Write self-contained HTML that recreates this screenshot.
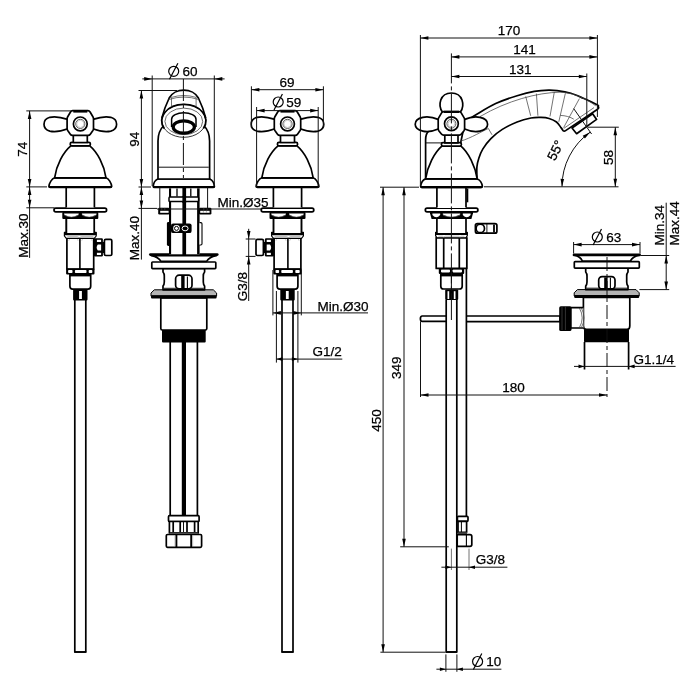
<!DOCTYPE html>
<html><head><meta charset="utf-8"><title>drawing</title>
<style>
html,body{margin:0;padding:0;background:#fff}
svg{display:block}
.m{stroke:#000;stroke-width:1.7;fill:none;stroke-linejoin:round}
.w{fill:#fff}
.t{stroke:#111;stroke-width:1;fill:none}
.g{stroke:#444;stroke-width:.75;fill:none}
.ar{fill:#000;stroke:none}
.ph{stroke:#000;stroke-width:1.2;fill:none}
text{font-family:"Liberation Sans",sans-serif;font-size:13.5px;fill:#000;stroke:#000;stroke-width:.25px}
svg{will-change:transform}
</style></head><body>
<svg width="700" height="700" viewBox="0 0 700 700">
<rect width="700" height="700" fill="#fff"/>

<defs><g id="vf">
 <!-- pipe -->
 <path class="m w" d="M-5.5,300 V652 H5.5 V300"/>
 <line class="m" x1="-5.9" y1="652" x2="5.9" y2="652" stroke-width="2"/>
 <!-- connector -->
 <rect x="-7.2" y="289.5" width="14.4" height="11" rx="1" fill="#000"/>
 <rect x="-1.2" y="291" width="2.8" height="8" fill="#fff"/>
 <!-- lower body -->
 <path class="m w" d="M-10.4,274.6 V286.3 Q-10.4,289.1 -7.6,289.1 H7.6 Q10.4,289.1 10.4,286.3 V274.6 Z" stroke-width="1.9"/>
 <line x1="-10.4" y1="275.4" x2="10.4" y2="275.4" stroke="#000" stroke-width="2"/>
 <!-- hex body -->
 <rect class="m w" x="-13.4" y="238" width="26.8" height="31"/>
 <line x1="-0.4" y1="238" x2="-0.4" y2="269" stroke="#000" stroke-width="1.6"/>
 <path d="M-11.6,240.5 Q-11.6,239.6 -10.6,239.6 M-2.2,240.5 Q-2.2,239.6 -3.2,239.6 M1.4,240.5 Q1.4,239.6 2.4,239.6 M11.6,240.5 Q11.6,239.6 10.6,239.6" stroke="#888" stroke-width=".5" fill="none"/>
 <!-- lower nut -->
 <rect x="-14.2" y="268.4" width="28.4" height="6.2" rx="1" fill="#000"/>
 <rect x="-12.2" y="270" width="4.4" height="3" rx=".8" fill="#fff"/>
 <rect x="-5.4" y="270" width="11.6" height="3" rx=".8" fill="#fff"/>
 <rect x="8.4" y="270" width="3.6" height="3" rx=".8" fill="#fff"/>
 <!-- ring -->
 <path d="M-15.9,232.4 H15.9 V236 L14,238.4 H-14 L-15.9,236 Z" fill="#fff" stroke="#000" stroke-width="1.2" stroke-linejoin="round"/>
 <rect x="-16.3" y="232" width="32.6" height="3.2" rx=".8" fill="#000"/>
 <path d="M-13,236.6 H-3 L-1,237.6 L1,236.6 H13" stroke="#888" stroke-width=".6" fill="none"/>
 <!-- upper stem -->
 <path class="m w" d="M-13.9,218 V233 M13.9,218 V233"/>
 <rect x="-13.9" y="218" width="27.8" height="15" fill="#fff"/>
 <path class="m" d="M-13.9,218 V233 M13.9,218 V233"/>
 <!-- nut under flange -->
 <rect x="-18" y="212" width="36" height="6.9" rx="1" fill="#000"/>
 <path d="M-16.2,213.6 H-1.6 V214.6 Q-8.9,219.2 -16.2,214.6 Z" fill="#fff"/>
 <path d="M1.6,213.6 H16.2 V214.6 Q8.9,219.2 1.6,214.6 Z" fill="#fff"/>
 <path d="M-16,215.2 Q-8.9,218.6 -1.8,215.2 M1.8,215.2 Q8.9,218.6 16,215.2" stroke="#999" stroke-width=".5" fill="none"/>
 <!-- flange -->
 <rect x="-26.3" y="208.2" width="52.6" height="3.6" rx="1.8" fill="#fff" stroke="#000" stroke-width="1.7"/>
 <!-- stem under handle -->
 <rect x="-14.1" y="187" width="28.2" height="20.5" fill="#fff"/>
 <path class="m" d="M-14.1,187 V207.4 M14.1,187 V207.4"/>
 <!-- base flare -->
 <path class="m w" d="M-25.6,177.8 C-28.5,178.6 -31,183 -31.4,186.4 Q-31.3,187.3 -30,187.3 H30 Q31.3,187.3 31.4,186.4 C31,183 28.5,178.6 25.6,177.8 Z"/>
 <line x1="-30.6" y1="187" x2="30.6" y2="187" stroke="#000" stroke-width="2.2" stroke-linecap="round"/>
 <!-- bell -->
 <path class="m w" d="M-9.2,145.6 C-17,152 -24,165 -25.7,177.8 H25.7 C24,165 17,152 9.2,145.6 Z"/>
 <!-- collar -->
 <rect class="m w" x="-10.1" y="142.3" width="20.2" height="3.5" rx="1.6"/>
 <!-- neck -->
 <rect class="m w" x="-7" y="134.5" width="14" height="8"/>
 <!-- lobes -->
 <path id="lobe" class="m w" d="M-12.5,119.4 C-19,117.2 -26,116.2 -30.5,117.3 C-34.6,118.4 -36.3,120.8 -36.3,124.2 C-36.3,127.6 -34.6,130 -30.5,131.1 C-26,132.2 -19,131.2 -12.5,128.8 Z"/>
 <use href="#lobe" transform="scale(-1,1)"/>
 <!-- hub -->
 <path class="m w" d="M-7.6,110.7 H7.6 Q9,110.8 9.8,112 L12.6,116.8 Q13.2,117.8 13.2,119 V128.4 Q13.2,129.6 12.6,130.5 L10,134.2 Q9.2,135.4 7.8,135.4 H-7.8 Q-9.2,135.4 -10,134.2 L-12.6,130.5 Q-13.2,129.6 -13.2,128.4 V119 Q-13.2,117.8 -12.6,116.8 L-9.8,112 Q-9,110.8 -7.6,110.7 Z"/>
 <line x1="-7" y1="111.4" x2="7" y2="111.4" stroke="#000" stroke-width="2.4"/>
 <circle class="m w" cx="0" cy="123.9" r="6.9" stroke-width="1.7"/>
 <circle cx="0" cy="123.9" r="4.6" fill="none" stroke="#333" stroke-width=".8"/>
 <circle cx="0" cy="123.9" r="3.6" fill="none" stroke="#aaa" stroke-width=".6"/>
 <!-- side valve -->
 <rect x="13.6" y="238.3" width="9" height="18.2" rx="1.2" fill="#000"/>
 <rect x="16.6" y="239.8" width="4.2" height="2.2" fill="#fff"/>
 <path d="M20.8,244.5 H17.5 Q15.2,247.4 17.5,250.4 H20.8 Z" fill="#fff"/>
 <rect x="16.6" y="252.8" width="4.2" height="2.2" fill="#fff"/>
 <rect class="m w" x="24.1" y="239.3" width="7.4" height="16.2" rx="1.4" stroke-width="2.2"/>
 <rect x="22" y="242" width="2.4" height="11" fill="#000"/>
</g></defs>

<use href="#vf" transform="translate(80.3,0)"/>
<use href="#vf" transform="translate(287.5,0) scale(-1,1)"/>
<line class="t" x1="26.3" y1="110.9" x2="72.0" y2="110.9"/>
<line class="t" x1="29.6" y1="110.9" x2="29.6" y2="257.9"/>
<line class="t" x1="26.3" y1="186.9" x2="47.0" y2="186.9"/>
<line class="t" x1="26.3" y1="207.8" x2="54.5" y2="207.8"/>
<polygon class="ar" points="29.6,110.9 31.4,118.9 27.8,118.9"/>
<polygon class="ar" points="29.6,186.9 27.8,178.9 31.4,178.9"/>
<polygon class="ar" points="29.6,186.9 31.4,194.9 27.8,194.9"/>
<polygon class="ar" points="29.6,207.8 27.8,199.8 31.4,199.8"/>
<text x="26.9" y="149.2" text-anchor="middle" transform="rotate(-90 26.9 149.2)">74</text>
<text x="27.6" y="235.7" text-anchor="middle" transform="rotate(-90 27.6 235.7)">Max.30</text>
<g transform="translate(183.8,0)">

 <!-- hose below drain -->
 <path class="m" d="M-13.6,342 V516 M13.6,342 V516"/>
 <rect x="-2" y="342" width="4.2" height="174" fill="#000"/>
 <!-- hose end fitting -->
 <rect class="m w" x="-15.3" y="515.7" width="30.6" height="5.8" rx="1" stroke-width="1.6"/>
 <rect class="m w" x="-14.4" y="521.5" width="28.8" height="11.4"/>
 <path class="m" d="M-10.6,522 V532.5 M-3.6,522 V532.5 M3.2,522 V532.5 M10.8,522 V532.5" stroke-width="1.1"/>
 <path class="t" d="M-0.3,522 V532.5"/>
 <line x1="-14" y1="533.3" x2="14" y2="533.3" stroke="#666" stroke-width="1.4"/>
 <rect class="m w" x="-17.5" y="534.5" width="35.3" height="12.8" rx="1.2" stroke-width="2"/>
 <path d="M-7.4,535 V547 M7.4,535 V547" stroke="#000" stroke-width="1.9"/>
 <path d="M-8.9,536 V546 M8.9,536 V546" stroke="#999" stroke-width=".5"/>
 <!-- thread block -->
 <rect x="-21.8" y="329.6" width="43.7" height="12.8" rx="1" fill="#000"/>
 <!-- lower drain body -->
 <path class="m w" d="M-23,298 V328.5 Q-23,330 -21.5,330 H21.5 Q23,330 23,328.5 V298 Z" stroke-width="1.7"/>
 <!-- gasket -->
 <path d="M-29.5,289.8 H29.5 L32.8,293 V296 H-32.8 V293 Z" fill="#b4b4b4" stroke="#000" stroke-width="1"/>
 <rect x="-32.8" y="295.2" width="65.6" height="3.2" rx="1" fill="#000"/>
 <!-- upper drain body -->
 <path class="m w" d="M-20.8,268.5 V272 Q-19.5,273.5 -19.5,276 V282 Q-19.5,284.5 -20.8,286 V289.8 H20.8 V286 Q19.5,284.5 19.5,282 V276 Q19.5,273.5 20.8,272 V268.5 Z"/>
 <line class="t" x1="-20" y1="288.3" x2="20" y2="288.3"/>
 <rect class="m w" x="-8.2" y="275.2" width="16.4" height="13.6" rx="3.6" stroke-width="1.8"/>
 <rect x="-2.6" y="276" width="3.4" height="12.4" fill="#000"/>
 <line x1="3.6" y1="276.5" x2="3.6" y2="288" stroke="#000" stroke-width="1.1"/>
 <!-- flange -->
 <rect class="m w" x="-32" y="262" width="64" height="6.6" rx=".8" stroke-width="1.7"/>
 <!-- plug cap -->
 <path class="m w" d="M-32.5,255.6 C-27,256.6 -24.5,258.5 -22.8,261.4 H22.8 C24.5,258.5 27,256.6 32.5,255.6 Z" stroke-width="1"/>
 <path d="M-33.4,254.6 H33.4" stroke="#000" stroke-width="2.8" stroke-linecap="round" fill="none"/>
 <!-- tube between spout and drain -->
 <rect x="-14.6" y="188.3" width="30.4" height="66" fill="#fff"/>
 <rect x="-14.8" y="188.3" width="2.1" height="66" fill="#000"/>
 <rect x="13.3" y="188.3" width="2.5" height="66" fill="#000"/>
 <rect x="-1.4" y="188" width="3.7" height="67" fill="#000"/>
 <path d="M-6.8,188.5 V196.4 M7,188.5 V196.4" stroke="#000" stroke-width="1.3" fill="none"/>
 <!-- ring under threads -->
 <rect x="-14.8" y="197.1" width="29.6" height="4.4" rx=".8" fill="#fff" stroke="#000" stroke-width="1.5"/>
 <rect x="-1.4" y="196" width="3.7" height="7" fill="#000"/>
 <!-- side brackets -->
 <rect x="-16.9" y="222" width="4" height="24" rx="1.4" fill="#000"/>
 <path d="M15.6,222.6 H17 Q18.2,222.6 18.2,223.8 V243.8 Q18.2,245 17,245 H15.6" fill="#fff" stroke="#000" stroke-width="1.1"/>
 <!-- clip -->
 <rect x="-12.8" y="223.4" width="20.6" height="9.7" rx="2.2" fill="#000"/>
 <circle cx="-7.3" cy="228.4" r="3.3" fill="#fff"/><circle cx="-7.3" cy="228.4" r="2" fill="none" stroke="#000" stroke-width="1"/>
 <ellipse cx="1.3" cy="228.4" rx="3" ry="2.4" fill="none" stroke="#fff" stroke-width="1"/>
 <!-- fixing bolts -->
 <rect x="-25.6" y="207.7" width="11.2" height="6.8" rx="1.2" fill="#000"/>
 <rect x="-23.6" y="210.8" width="8.4" height="2" fill="#fff"/>
 <path d="M-22,207.7 V210 M-19,207.7 V210" stroke="#888" stroke-width=".6"/>
 <rect x="15.2" y="207.7" width="12.4" height="6.8" rx="1.2" fill="#000"/>
 <rect x="16.4" y="210.8" width="9.4" height="2" fill="#fff"/>
 <path d="M20,207.7 V210 M23.4,207.7 V210 M19.6,210.8 V212.8 M22.6,210.8 V212.8" stroke="#888" stroke-width=".6"/>
 <!-- spout base flange -->
 <path class="m w" d="M-26,179 C-28.5,180 -30.3,183.5 -30.6,186.3 Q-30.5,187.4 -29.2,187.4 H29.2 Q30.5,187.4 30.6,186.3 C30.3,183.5 28.5,180 26,179 Z"/>
 <line x1="-29.8" y1="187" x2="29.8" y2="187" stroke="#000" stroke-width="2.2" stroke-linecap="round"/>
 <!-- spout body -->
 <path class="m w" d="M-25.8,179 V141 C-25.8,134 -23.5,129 -20,125.5 L20,125.5 C23.5,129 25.8,134 25.8,141 V179 Z" stroke-width="1.7"/>
 <line class="t" x1="-25" y1="167.2" x2="25" y2="167.2"/>
 <!-- spout head -->
 <path class="w" d="M-21.8,117 C-20,110 -17.5,104 -14.6,98 C-12,93 -6,90.1 0,90.1 C6,90.1 12,93 14.6,98 C17.5,104 20,110 21.8,117 Z" stroke="none"/>
 <ellipse cx="0" cy="120.8" rx="22" ry="16.5" fill="#fff" stroke="#222" stroke-width=".9"/>
 <path class="m" d="M-19.6,128.4 A22,16.5 0 1 1 19.6,128.4" stroke-width="1.8"/>
 <path class="m" d="M-21.9,118 C-20,110 -17.5,104 -14.6,98 C-12,93 -6,90.1 0,90.1 C6,90.1 12,93 14.6,98 C17.5,104 20,110 21.9,118" stroke-width="1.8"/>
 <path class="g" d="M-12.3,106.6 V97.4 Q0,93.6 12.3,97.4 V106.6" stroke="#777"/>
 <path class="g" d="M-15.2,99.6 Q0,94.5 15.2,99.6" stroke="#999"/>
 <ellipse cx="0" cy="121.4" rx="18.9" ry="13.3" fill="none" stroke="#444" stroke-width=".8"/>
 <path d="M-12.2,127 V119.3 A12.2,6.5 0 0 1 12.2,119.3 V127" fill="#fff" stroke="#000" stroke-width="1.5"/>
 <ellipse cx="0" cy="127" rx="10.6" ry="6.1" fill="#fff" stroke="#000" stroke-width="3.2"/>

</g>
<path class="t" d="M183.4,79 V178" stroke-dasharray="22 3 4 3"/>
<line class="t" x1="142.3" y1="78.9" x2="224.6" y2="78.9"/>
<line class="t" x1="152.2" y1="75.5" x2="152.2" y2="186.0"/>
<line class="t" x1="214.3" y1="75.5" x2="214.3" y2="186.0"/>
<polygon class="ar" points="152.2,78.9 144.2,80.7 144.2,77.1"/>
<polygon class="ar" points="214.3,78.9 222.3,77.1 222.3,80.7"/>
<circle class="ph" cx="173.7" cy="71.3" r="5.0"/><line class="ph" x1="169.5" y1="79.3" x2="177.9" y2="63.3"/>
<text x="182.4" y="76.2" text-anchor="start">60</text>
<line class="t" x1="138.5" y1="90.5" x2="177.0" y2="90.5"/>
<line class="t" x1="141.4" y1="90.5" x2="141.4" y2="259.6"/>
<line class="t" x1="138.5" y1="187.0" x2="151.0" y2="187.0"/>
<line class="t" x1="138.5" y1="208.4" x2="157.0" y2="208.4"/>
<polygon class="ar" points="141.4,90.5 143.2,98.5 139.6,98.5"/>
<polygon class="ar" points="141.4,187.0 139.6,179.0 143.2,179.0"/>
<polygon class="ar" points="141.4,187.0 143.2,195.0 139.6,195.0"/>
<polygon class="ar" points="141.4,208.4 139.6,200.4 143.2,200.4"/>
<text x="138.9" y="139.3" text-anchor="middle" transform="rotate(-90 138.9 139.3)">94</text>
<text x="139.2" y="238.0" text-anchor="middle" transform="rotate(-90 139.2 238.0)">Max.40</text>
<line class="t" x1="157.0" y1="209.0" x2="261.5" y2="209.0"/>
<line class="t" x1="159.8" y1="187.5" x2="159.8" y2="209.0"/>
<line class="t" x1="207.6" y1="187.5" x2="207.6" y2="209.0"/>
<text x="217.6" y="206.9" text-anchor="start">Min.Ø35</text>
<line class="t" x1="251.4" y1="89.7" x2="323.4" y2="89.7"/>
<line class="t" x1="251.4" y1="86.3" x2="251.4" y2="128.0"/>
<line class="t" x1="323.4" y1="86.3" x2="323.4" y2="128.0"/>
<polygon class="ar" points="251.4,89.7 259.4,87.9 259.4,91.5"/>
<polygon class="ar" points="323.4,89.7 315.4,91.5 315.4,87.9"/>
<text x="287.0" y="86.8" text-anchor="middle">69</text>
<line class="t" x1="256.6" y1="110.6" x2="318.2" y2="110.6"/>
<line class="t" x1="256.6" y1="107.0" x2="256.6" y2="188.0"/>
<line class="t" x1="318.2" y1="107.0" x2="318.2" y2="188.0"/>
<polygon class="ar" points="256.6,110.6 264.6,108.8 264.6,112.4"/>
<polygon class="ar" points="318.2,110.6 310.2,112.4 310.2,108.8"/>
<circle class="ph" cx="278.2" cy="102.0" r="5.0"/><line class="ph" x1="274.0" y1="110.0" x2="282.4" y2="94.0"/>
<text x="286.2" y="106.9" text-anchor="start">59</text>
<line class="t" x1="248.7" y1="228.8" x2="248.7" y2="301.0"/>
<line class="t" x1="245.7" y1="239.0" x2="255.5" y2="239.0"/>
<line class="t" x1="245.7" y1="256.4" x2="255.5" y2="256.4"/>
<polygon class="ar" points="248.7,239.0 246.9,231.0 250.5,231.0"/>
<polygon class="ar" points="248.7,256.4 250.5,264.4 246.9,264.4"/>
<text x="246.8" y="286.6" text-anchor="middle" transform="rotate(-90 246.8 286.6)">G3/8</text>
<line class="t" x1="272.9" y1="312.9" x2="368.0" y2="312.9"/>
<line class="t" x1="272.9" y1="270.0" x2="272.9" y2="315.4"/>
<line class="t" x1="301.3" y1="270.0" x2="301.3" y2="315.4"/>
<polygon class="ar" points="272.9,312.9 280.9,311.1 280.9,314.7"/>
<polygon class="ar" points="301.3,312.9 293.3,314.7 293.3,311.1"/>
<text x="317.6" y="310.8" text-anchor="start">Min.Ø30</text>
<line class="t" x1="276.4" y1="359.1" x2="342.3" y2="359.1"/>
<line class="t" x1="276.4" y1="291.0" x2="276.4" y2="362.6"/>
<line class="t" x1="297.9" y1="291.0" x2="297.9" y2="362.6"/>
<polygon class="ar" points="276.4,359.1 282.4,357.3 282.4,360.9"/>
<polygon class="ar" points="297.9,359.1 291.9,360.9 291.9,357.3"/>
<text x="312.6" y="356.2" text-anchor="start">G1/2</text>
<line class="t" x1="380.0" y1="187.2" x2="419.0" y2="187.2"/>
<line class="t" x1="484.0" y1="186.8" x2="618.5" y2="186.8"/>
<path class="m w" d="M446,316 H422.2 Q420.4,316 420.4,318.7 Q420.4,321.4 422.2,321.4 H446" stroke-width="1.4"/>
<path class="m w" d="M466.6,316 H560 V321.6 H466.6" stroke-width="1.4"/>
<path class="m" d="M466.4,238 V516" stroke-width="1.3"/>

<g>
 <rect class="m w" x="457.4" y="516.3" width="10.6" height="5" rx="1" stroke-width="1.4"/>
 <rect class="m w" x="458" y="521.3" width="8.6" height="11" stroke-width="1.3"/>
 <line x1="461.4" y1="522" x2="461.4" y2="532" stroke="#000" stroke-width="1"/>
 <line x1="458" y1="533.2" x2="467" y2="533.2" stroke="#555" stroke-width="1.6"/>
 <path class="m w" d="M457.2,534.6 H470 Q471.8,534.6 471.8,536.4 V544.6 Q471.8,546.4 470,546.4 H457.2 Z" stroke-width="1.7"/>
 <line x1="466.4" y1="535" x2="466.4" y2="546" stroke="#000" stroke-width="1.1"/>
</g>

<g transform="translate(451.4,0)">

 <!-- spout body back (behind handle) -->
 <path class="m w" d="M-25.8,179 V140 C-25.8,135 -24.5,132.5 -22.6,131" stroke-width="1.6"/>
 <line class="t" x1="-25.4" y1="142.9" x2="-9.4" y2="142.9"/>
 <!-- pipe -->
 <path class="m w" d="M-5.2,300 V652 H5.4 V300" stroke-width="1.5"/>
 <line x1="-5.4" y1="652" x2="5.6" y2="652" stroke="#000" stroke-width="1.8"/>
 <rect x="-6.2" y="289.5" width="13" height="10.6" rx="1" fill="#000"/>
 <rect x="-3.9" y="291.2" width="1.7" height="7.8" fill="#fff"/><rect x="2.4" y="291.2" width="1.7" height="7.8" fill="#fff"/>
 <!-- lower body -->
 <path class="m w" d="M-10.6,274.6 V286.2 Q-10.6,289 -7.8,289 H8 Q10.8,289 10.8,286.2 V274.6 Z" stroke-width="1.9"/>
 <line x1="-10.6" y1="275.4" x2="10.8" y2="275.4" stroke="#000" stroke-width="2"/>
 <line class="t" x1="0" y1="276" x2="0" y2="289" stroke-width=".8"/>
 <!-- lower nut -->
 <rect x="-12.6" y="267.8" width="25.4" height="6.2" rx="1" fill="#000"/>
 <rect x="-10.4" y="269.4" width="9" height="3" rx=".8" fill="#fff"/>
 <rect x="1.2" y="269.4" width="9.4" height="3" rx=".8" fill="#fff"/>
 <!-- hex body -->
 <rect class="m w" x="-15.2" y="237.6" width="30.6" height="30.8" stroke-width="1.9"/>
 <line class="m" x1="-7.7" y1="238" x2="-7.7" y2="268" stroke-width="1.8"/>
 <line class="m" x1="7.9" y1="238" x2="7.9" y2="268" stroke-width="1.8"/>
 <!-- ring -->
 <path d="M-15.8,232.4 H15.9 V235.6 L14.6,237.8 H-14.6 L-15.8,235.6 Z" fill="#fff" stroke="#000" stroke-width="1.2" stroke-linejoin="round"/>
 <rect x="-16.2" y="232" width="32.5" height="3" rx=".8" fill="#000"/>
 <path d="M-13,236.2 H-9 L-7.6,237.2 L-6,236.2 H7 L8.6,237.2 L10,236.2 H13" stroke="#888" stroke-width=".6" fill="none"/>
 <!-- stem -->
 <rect x="-14.5" y="218" width="29.1" height="15" fill="#fff"/>
 <path class="m" d="M-14.5,218 V233 M14.6,218 V233"/>
 <!-- nut under flange -->
 <path d="M-21.4,212 H21.6 V213.2 L20,219 H-19.8 L-21.4,213.2 Z" fill="#000"/>
 <path d="M-19,213.6 H-11.2 V215 Q-15.1,219.6 -19,215 Z" fill="#fff"/>
 <path d="M-8.6,213.6 H8.8 V214.6 Q0,219.4 -8.6,214.6 Z" fill="#fff"/>
 <path d="M11.4,213.6 H19.2 V215 Q15.3,219.6 11.4,215 Z" fill="#fff"/>
 <path d="M-8.4,215.2 Q0,218.6 8.6,215.2" stroke="#999" stroke-width=".5" fill="none"/>
 <!-- flange -->
 <rect x="-26.1" y="208.2" width="52.6" height="3.6" rx="1.8" fill="#fff" stroke="#000" stroke-width="1.7"/>
 <!-- upper stem -->
 <rect x="-14.5" y="187" width="29.1" height="21" fill="#fff"/>
 <path class="m" d="M-14.5,187 V207.6 M14.6,187 V207.6"/>
 <line x1="16" y1="188.5" x2="16" y2="202.3" stroke="#000" stroke-width="1.8"/>
 <!-- spout -->
 <path class="m w" d="M25.6,178.6 C25.6,176.7 25.2,170.4 25.5,167.0 C25.8,163.6 26.5,161.0 27.5,158.0 C28.5,155.0 29.5,152.1 31.5,148.9 C33.5,145.7 36.3,141.8 39.5,138.6 C42.7,135.3 46.5,132.2 50.9,129.4 C55.3,126.6 60.9,123.9 65.7,122.0 C70.5,120.1 75.5,118.8 79.5,118.0 C83.5,117.2 86.6,117.3 89.6,117.4 C92.6,117.5 95.1,117.7 97.7,118.5 C100.3,119.3 103.1,120.5 105.1,122.0 C107.1,123.5 108.5,126.2 109.6,127.6 C110.7,129.0 111.3,130.1 111.6,130.6 Q112.8,131.6 114.2,130.6 L146.2,109.2 Q148.0,107.8 146.7,106.2 L146.7,106.2 C146.5,106.0 148.2,106.1 145.7,104.8 C143.3,103.5 136.4,100.2 132.0,98.3 C127.6,96.4 123.9,94.6 119.5,93.3 C115.1,92.0 109.4,91.1 105.7,90.6 C102.0,90.1 101.0,90.0 97.2,90.1 C93.4,90.2 88.1,90.5 82.9,91.4 C77.6,92.3 72.1,93.7 65.7,95.7 C59.3,97.7 51.4,100.3 44.3,103.6 C37.2,106.9 26.5,113.7 22.9,115.7 L13.6,122.0 L8.6,146.0 Z" stroke-width="1.8"/>
 <path class="g" d="M28.6,116.6 C56,100.5 86,92.6 108.6,92.2 C121,92.6 133,97.5 144.4,105.8"/>
 <path class="g" d="M112.4,128.4 L142.6,107.6"/>
 <path class="g" d="M9,141.2 C20,138 31,131 37,128.5 C38.5,131 39.5,133 40.6,134.8"/>
 <path class="g" d="M74.3,96.4 L79.3,115.8 M85,93.6 L86.5,115.7 M102.9,92.1 L98.6,116.4 M114,93.2 L107.4,121.8 M128,98.6 L112.2,127.6"/>
 <path class="g" d="M108.8,115.4 C114,115.5 119,117 122.4,119.2"/>
 <!-- aerator -->
 <path class="m w" d="M120.6,128 L141.2,113.7 L145.2,119.4 L125.2,133.7 Z" stroke-width="1.8"/>
 <!-- base flare -->
 <path class="m w" d="M-25.6,178.9 C-28.5,179.7 -30.4,183.4 -30.8,186.4 Q-30.7,187.4 -29.4,187.4 H29.6 Q30.9,187.4 31,186.4 C30.6,183.4 28.5,179.7 25.6,178.9 Z"/>
 <line x1="-30" y1="187.1" x2="30.2" y2="187.1" stroke="#000" stroke-width="2.2" stroke-linecap="round"/>
 <!-- bell -->
 <path class="m w" d="M-9.3,145.9 C-17,152.5 -24,166 -25.8,178.9 H25.8 C24,166 17,152.5 9.3,145.9 Z"/>
 <rect class="m w" x="-10" y="142.7" width="20" height="3.4" rx="1.6"/>
 <rect class="m w" x="-6.6" y="134.6" width="13.2" height="8.3"/>
 <!-- lobes -->
 <path id="lobe2" class="m w" d="M-12.5,119.6 C-18,117.4 -24,116.4 -28.6,117.4 C-33.5,118.4 -36.2,120.8 -36.2,124.2 C-36.2,127.6 -33.5,130 -28.6,131.1 C-24,132.2 -18,131.2 -12.5,128.8 Z"/>
 <use href="#lobe2" transform="scale(-1,1)"/>
 <!-- top knob -->
 <path class="m w" d="M-9,112 C-11.5,108.5 -12,104 -10.6,100 C-9,95.5 -5,93 0,93 C5,93 9,95.5 10.6,100 C12,104 11.5,108.5 9,112 Z" stroke-width="1.7"/>
 <!-- hub -->
 <path class="m w" d="M-7.6,111.6 H7.6 Q9,111.7 9.8,112.9 L12.6,117.6 Q13.2,118.6 13.2,119.8 V128.6 Q13.2,129.8 12.6,130.7 L10,134 Q9.2,135.1 7.8,135.1 H-7.8 Q-9.2,135.1 -10,134 L-12.6,130.7 Q-13.2,129.8 -13.2,128.6 V119.8 Q-13.2,118.6 -12.6,117.6 L-9.8,112.9 Q-9,111.7 -7.6,111.6 Z"/>
 <line x1="-7.6" y1="111.9" x2="7.6" y2="111.9" stroke="#000" stroke-width="2.2"/>
 <circle class="m w" cx="0" cy="123.7" r="6.9" stroke-width="1.7"/>
 <circle cx="0" cy="123.7" r="4.5" fill="none" stroke="#333" stroke-width=".8"/>
 <circle cx="0" cy="123.7" r="3.3" fill="none" stroke="#aaa" stroke-width=".6"/>
 <!-- side valve end view -->
 <rect class="m w" x="24" y="223.6" width="21.5" height="9.6" rx="2" stroke-width="1.7"/>
 <circle class="m w" cx="28.9" cy="228.4" r="4.2" stroke-width="1.4"/>
 <line x1="35.5" y1="224" x2="35.5" y2="233" stroke="#000" stroke-width=".9"/>
 <path d="M42.6,224.4 V232.4" stroke="#000" stroke-width="1.8"/>

</g>
<path class="t" d="M451.4,53.4 V320" stroke-dasharray="30 3 4 3"/>
<line class="t" x1="420.4" y1="38.0" x2="597.4" y2="38.0"/>
<line class="t" x1="420.4" y1="35.0" x2="420.4" y2="186.0"/>
<line class="t" x1="597.4" y1="35.0" x2="597.4" y2="117.0"/>
<polygon class="ar" points="420.4,38.0 428.4,36.2 428.4,39.8"/>
<polygon class="ar" points="597.4,38.0 589.4,39.8 589.4,36.2"/>
<text x="509.0" y="35.4" text-anchor="middle">170</text>
<line class="t" x1="451.4" y1="56.9" x2="597.4" y2="56.9"/>
<polygon class="ar" points="451.4,56.9 459.4,55.1 459.4,58.7"/>
<polygon class="ar" points="597.4,56.9 589.4,58.7 589.4,55.1"/>
<text x="524.5" y="54.4" text-anchor="middle">141</text>
<line class="t" x1="451.4" y1="76.5" x2="586.8" y2="76.5"/>
<line class="t" x1="586.8" y1="73.5" x2="586.8" y2="126.8"/>
<polygon class="ar" points="451.4,76.5 459.4,74.7 459.4,78.3"/>
<polygon class="ar" points="586.8,76.5 578.8,78.3 578.8,74.7"/>
<text x="520.3" y="73.7" text-anchor="middle">131</text>
<line class="t" x1="588.0" y1="127.2" x2="618.8" y2="127.2"/>
<line class="t" x1="615.3" y1="127.2" x2="615.3" y2="186.8"/>
<polygon class="ar" points="615.3,127.2 617.1,135.2 613.5,135.2"/>
<polygon class="ar" points="615.3,186.8 613.5,178.8 617.1,178.8"/>
<text x="612.8" y="157.5" text-anchor="middle" transform="rotate(-90 612.8 157.5)">58</text>
<line class="t" x1="573.7" y1="108.6" x2="591.6" y2="134.0"/>
<path class="t" d="M562,186.6 A66.7,66.7 0 0 1 590.1,132.2" stroke-width="1"/>
<polygon class="ar" points="562.0,186.8 560.5,178.7 564.1,178.9"/>
<polygon class="ar" points="590.1,132.2 584.9,138.5 582.7,135.7"/>
<text x="559.6" y="152.3" text-anchor="middle" transform="rotate(-64 559.6 152.3)">55°</text>
<line class="t" x1="383.1" y1="187.2" x2="383.1" y2="652.2"/>
<line class="t" x1="404.0" y1="187.2" x2="404.0" y2="546.8"/>
<polygon class="ar" points="383.1,187.2 384.9,195.2 381.3,195.2"/>
<polygon class="ar" points="404.0,187.2 405.8,195.2 402.2,195.2"/>
<polygon class="ar" points="383.1,652.2 381.3,644.2 384.9,644.2"/>
<polygon class="ar" points="404.0,546.8 402.2,538.8 405.8,538.8"/>
<line class="t" x1="380.4" y1="652.2" x2="445.6" y2="652.2"/>
<line class="t" x1="400.2" y1="546.8" x2="448.8" y2="546.8"/>
<text x="401.2" y="367.7" text-anchor="middle" transform="rotate(-90 401.2 367.7)">349</text>
<text x="380.6" y="420.4" text-anchor="middle" transform="rotate(-90 380.6 420.4)">450</text>
<line class="t" x1="420.5" y1="321.5" x2="420.5" y2="397.0"/>
<line class="t" x1="420.5" y1="395.0" x2="607.0" y2="395.0"/>
<polygon class="ar" points="420.5,395.0 428.5,393.2 428.5,396.8"/>
<polygon class="ar" points="607.0,395.0 599.0,396.8 599.0,393.2"/>
<text x="513.6" y="391.6" text-anchor="middle">180</text>
<line class="g" x1="451.4" y1="548.6" x2="451.4" y2="570.0"/>
<line class="g" x1="469.0" y1="548.6" x2="469.0" y2="570.0"/>
<line class="t" x1="441.4" y1="567.2" x2="507.4" y2="567.2"/>
<polygon class="ar" points="451.4,567.2 445.4,569.0 445.4,565.4"/>
<polygon class="ar" points="469.0,567.2 475.0,565.4 475.0,569.0"/>
<text x="475.8" y="564.3" text-anchor="start">G3/8</text>
<line class="t" x1="445.9" y1="654.4" x2="445.9" y2="671.8"/>
<line class="t" x1="456.9" y1="654.4" x2="456.9" y2="671.8"/>
<line class="t" x1="436.4" y1="669.2" x2="501.4" y2="669.2"/>
<polygon class="ar" points="445.9,669.2 439.9,671.0 439.9,667.4"/>
<polygon class="ar" points="456.9,669.2 462.9,667.4 462.9,671.0"/>
<circle class="ph" cx="477.6" cy="661.5" r="5.0"/><line class="ph" x1="473.4" y1="669.5" x2="481.8" y2="653.5"/>
<text x="486.3" y="666.4" text-anchor="start">10</text>
<g transform="translate(607,0)">

 <!-- tail pipe -->
 <path class="m" d="M-22.5,342 V369.4 M21.6,342 V369.4" stroke-width="1.1"/>
 <rect x="-23" y="329" width="45" height="13.2" rx="1" fill="#000"/>
 <!-- lower body -->
 <path class="m w" d="M-23.6,297.5 V326 Q-23.6,329.4 -20.5,329.4 H20 Q22.8,329.4 22.8,326 V297.5 Z" stroke-width="1.7"/>
 <!-- side port -->
 <path class="m w" d="M-23.6,307.6 H-36.4 V328 H-23.6" stroke-width="1.4"/>
 <path class="g" d="M-27.6,308 Q-22,318 -27.6,327.6 M-25.6,308 Q-20.4,318 -25.6,327.6"/>
 <rect x="-47.8" y="306.3" width="12.3" height="24.8" rx="1.6" fill="#000"/>
 <path d="M-45,306.5 V330 M-41.6,306.5 V330" stroke="#555" stroke-width=".6"/>
 <!-- gasket -->
 <path d="M-29.6,289.6 H29 L32.2,292.8 V296 H-32.8 V292.8 Z" fill="#b4b4b4" stroke="#000" stroke-width="1"/>
 <rect x="-32.8" y="295" width="65" height="3" rx="1" fill="#000"/>
 <!-- upper body -->
 <path class="m w" d="M-21.3,268 V272 Q-20,273.5 -20,276 V282 Q-20,284.5 -21.3,286 V289.6 H21 V286 Q19.7,284.5 19.7,282 V276 Q19.7,273.5 21,272 V268 Z"/>
 <line class="t" x1="-20.5" y1="288.2" x2="20.4" y2="288.2"/>
 <rect class="m w" x="-8.3" y="276.6" width="16.3" height="12.2" rx="3.4" stroke-width="1.8"/>
 <rect x="-2.8" y="277.4" width="3.4" height="11" fill="#000"/>
 <line x1="3.4" y1="277.8" x2="3.4" y2="288.2" stroke="#000" stroke-width="1.1"/>
 <!-- flange -->
 <rect class="m w" x="-32.7" y="261.7" width="65" height="6.4" rx=".8" stroke-width="1.7"/>
 <!-- cap -->
 <path class="m w" d="M-32.6,255.2 C-28,256.2 -26,258 -24.6,261 H23.4 C25,258 27,256.2 32.2,255.2 Z" stroke-width="1"/>
 <path d="M-33,254.9 H32.6" stroke="#000" stroke-width="2.7" stroke-linecap="round" fill="none"/>

</g>
<path class="t" d="M607,257 V397" stroke-dasharray="14 3 4 3"/>
<line class="t" x1="573.6" y1="244.6" x2="640.0" y2="244.6"/>
<line class="t" x1="573.6" y1="242.0" x2="573.6" y2="253.5"/>
<line class="t" x1="640.0" y1="242.0" x2="640.0" y2="253.5"/>
<polygon class="ar" points="573.6,244.6 581.6,242.8 581.6,246.4"/>
<polygon class="ar" points="640.0,244.6 632.0,246.4 632.0,242.8"/>
<circle class="ph" cx="597.3" cy="237.0" r="5.0"/><line class="ph" x1="593.1" y1="245.0" x2="601.5" y2="229.0"/>
<text x="606.2" y="242.0" text-anchor="start">63</text>
<line class="t" x1="666.2" y1="202.7" x2="666.2" y2="289.6"/>
<line class="t" x1="640.6" y1="255.5" x2="669.2" y2="255.5"/>
<line class="t" x1="639.4" y1="289.6" x2="669.2" y2="289.6"/>
<polygon class="ar" points="666.2,255.5 668.0,263.5 664.4,263.5"/>
<polygon class="ar" points="666.2,289.6 664.4,281.6 668.0,281.6"/>
<text x="663.7" y="245.6" text-anchor="start" transform="rotate(-90 663.7 245.6)">Min.34</text>
<text x="679.5" y="245.6" text-anchor="start" transform="rotate(-90 679.5 245.6)">Max.44</text>
<line class="t" x1="574.0" y1="366.4" x2="675.6" y2="366.4"/>
<polygon class="ar" points="584.5,366.4 578.5,368.2 578.5,364.6"/>
<polygon class="ar" points="628.6,366.4 634.6,364.6 634.6,368.2"/>
<text x="633.6" y="363.6" text-anchor="start">G1.1/4</text>
</svg>
</body></html>
